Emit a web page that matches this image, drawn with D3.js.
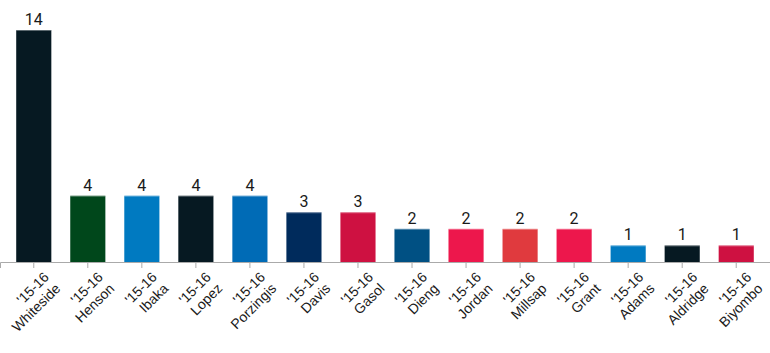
<!DOCTYPE html>
<html>
<head>
<meta charset="utf-8">
<script src="https://cdn.jsdelivr.net/npm/d3@7.8.5/dist/d3.min.js"></script>
<style>
  body { margin: 0; background: #fff; }
  svg { display: block; font-family: Roboto, "Noto Sans", sans-serif; }
  .domain, .tick line { stroke: #aaa; }
</style>
</head>
<body>
<div id="chart"></div>
<script>
// data
const seasons = ["'15-16", "'15-16", "'15-16", "'15-16", "'15-16", "'15-16", "'15-16",
                 "'15-16", "'15-16", "'15-16", "'15-16", "'15-16", "'15-16", "'15-16"];
const players = ["Whiteside", "Henson", "Ibaka", "Lopez", "Porzingis", "Davis", "Gasol",
                 "Dieng", "Jordan", "Millsap", "Grant", "Adams", "Aldridge", "Biyombo"];
const values = [14, 4, 4, 4, 4, 3, 3, 2, 2, 2, 2, 1, 1, 1];
const colors = ["#061922", "#00471B", "#007AC1", "#061922", "#006BB6", "#002B5C", "#CE1141",
                "#005083", "#ED174C", "#E03A3E", "#ED174C", "#007AC1", "#061922", "#CE1141"];

const width = 770, height = 353;
const baseY = 262;

const svg = d3.select('#chart').append('svg')
    .attr('width', width)
    .attr('height', height);

const x = d3.scaleBand()
    .domain(players)
    .range([0, width])
    .paddingInner(0.35)
    .paddingOuter(0.3);

const y = d3.scaleLinear()
    .domain([0, 14])
    .range([baseY, 30]);

const rows = players.map((p, i) => ({ player: p, season: seasons[i], value: values[i], color: colors[i] }));

// Bars
svg.selectAll('.bar')
    .data(rows)
    .enter()
    .append('rect')
    .attr('class', 'bar')
    .attr('x', d => x(d.player))
    .attr('y', d => y(d.value))
    .attr('width', x.bandwidth())
    .attr('height', d => baseY - y(d.value))
    .style('fill', d => d.color);

// thin light edge on top of each bar
svg.selectAll('.cap')
    .data(rows)
    .enter()
    .append('line')
    .attr('class', 'cap')
    .attr('x1', d => x(d.player))
    .attr('x2', d => x(d.player) + x.bandwidth())
    .attr('y1', d => y(d.value) + 0.5)
    .attr('y2', d => y(d.value) + 0.5)
    .style('stroke', '#fff')
    .style('stroke-opacity', 0.35);

// Value labels
svg.selectAll('.value')
    .data(rows)
    .enter()
    .append('text')
    .attr('class', 'value')
    .attr('x', d => x(d.player) + x.bandwidth() / 2)
    .attr('y', d => y(d.value) - 5)
    .attr('text-anchor', 'middle')
    .style('font-size', '16px')
    .style('fill', '#1a1a1a')
    .text(d => d.value);

// Axis
const axis = svg.append('g')
    .attr('transform', `translate(0,${baseY})`)
    .call(d3.axisBottom(x).tickSize(6).tickSizeOuter(6).tickFormat(''));

axis.selectAll('.tick text').remove();

const label = axis.selectAll('.tick')
    .append('text')
    .attr('transform', 'translate(16,16) rotate(-45)')
    .attr('text-anchor', 'end')
    .style('font-size', '14px')
    .style('fill', '#1a1a1a');

label.append('tspan')
    .attr('x', 0)
    .attr('dy', 0)
    .text((d, i) => seasons[i]);

label.append('tspan')
    .attr('x', 0)
    .attr('dy', '1.15em')
    .text(d => d);
</script>
</body>
</html>
